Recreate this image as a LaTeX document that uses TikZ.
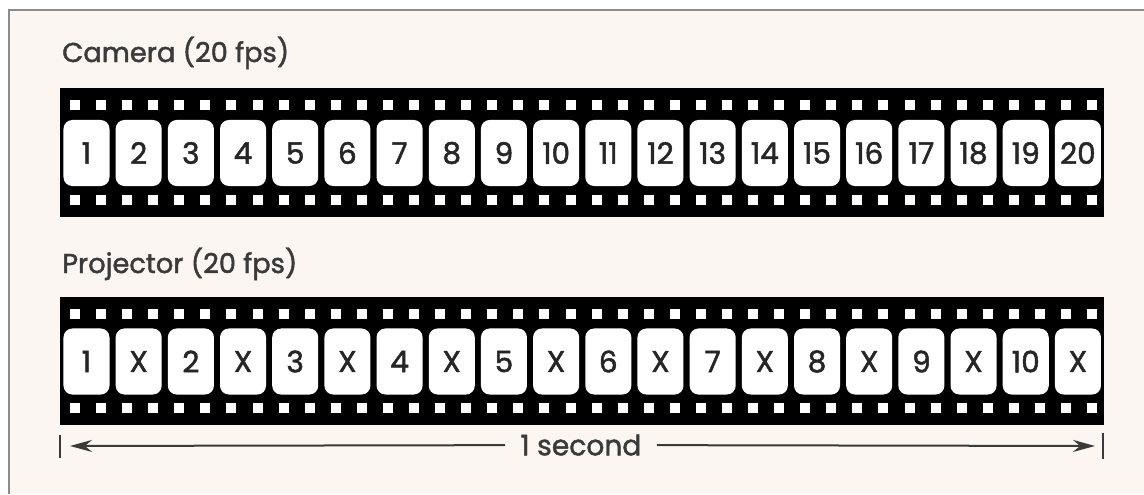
\documentclass[tikz,border=0pt]{standalone}
\usepackage{fontspec}
\setmainfont{Poppins}[RawFeature={embolden=1.6}]
\usetikzlibrary{positioning}
\usetikzlibrary{arrows.meta}

\definecolor{paper}{HTML}{FBF6F1}
\definecolor{ink}{HTML}{3A3A3A}
\definecolor{rim}{HTML}{8C8C8C}

\tikzset{
	heading/.style={anchor=base west, inner sep=0pt, text=ink, font=\fontsize{19.4}{20}\selectfont},
	frame/.style={fill=white, rounded corners=0.22cm, minimum width=1.15cm, minimum height=1.65cm, inner sep=0pt, text=black!85, font=\fontsize{21}{21}\selectfont},
	hole/.style={fill=white},
	tip/.style={-{Stealth[length=0.55cm, width=0.3cm]}, line width=0.05cm, draw=ink},
}

\begin{document}
\begin{tikzpicture}[x=0.025cm, y=-0.025cm]
		\useasboundingbox (0,0) rectangle (1144,494);
		\fill[white] (0,0) rectangle (1144,494);
		\fill[paper] (9,10) rectangle (1144,494);
		\draw[rim, line width=0.05cm] (9,494) -- (9,10) -- (1144,10);

		% camera strip
		\node [heading] (camlbl) at (62,62) {Camera (20 fps)};
		\fill (60,88) rectangle (1104,217);
		\foreach \i in {0,...,39} {
			\fill[hole] ({70+26.08*\i},100) rectangle +(10,10);
			\fill[hole] ({70+26.08*\i},195) rectangle +(10,10);
		}
		\foreach \i in {1,...,20}
			\node [frame] (c\i) at ({86.5+52.18*(\i-1)},153) {\i};

		% projector strip
		\node [heading] (projlbl) at (62,273) {Projector (20 fps)};
		\fill (60,297) rectangle (1104,425);
		\foreach \i in {0,...,39} {
			\fill[hole] ({70+26.08*\i},309) rectangle +(10,10);
			\fill[hole] ({70+26.08*\i},403) rectangle +(10,10);
		}
		\foreach \t [count=\i] in {1,X,2,X,3,X,4,X,5,X,6,X,7,X,8,X,9,X,10,X}
			\node [frame] (p\i) at ({86.5+52.18*(\i-1)},361.5) {\t};

		% one second
		\coordinate (sl) at (60,446);
		\coordinate (sr) at (1103,446);
		\draw[ink, line width=0.05cm] (sl) ++(0,-11) -- ++(0,23);
		\draw[ink, line width=0.05cm] (sr) ++(0,-13) -- ++(0,26);
		\node [fill=paper, inner xsep=0.38cm, text=ink, font=\fontsize{20}{20}\selectfont] (sec) at (581,445) {1 second};
		\draw[tip, shorten >=0.25cm] (sec) -- (sl);
		\draw[tip, shorten >=0.2cm] (sec) -- (sr);
	\end{tikzpicture}
\end{document}
